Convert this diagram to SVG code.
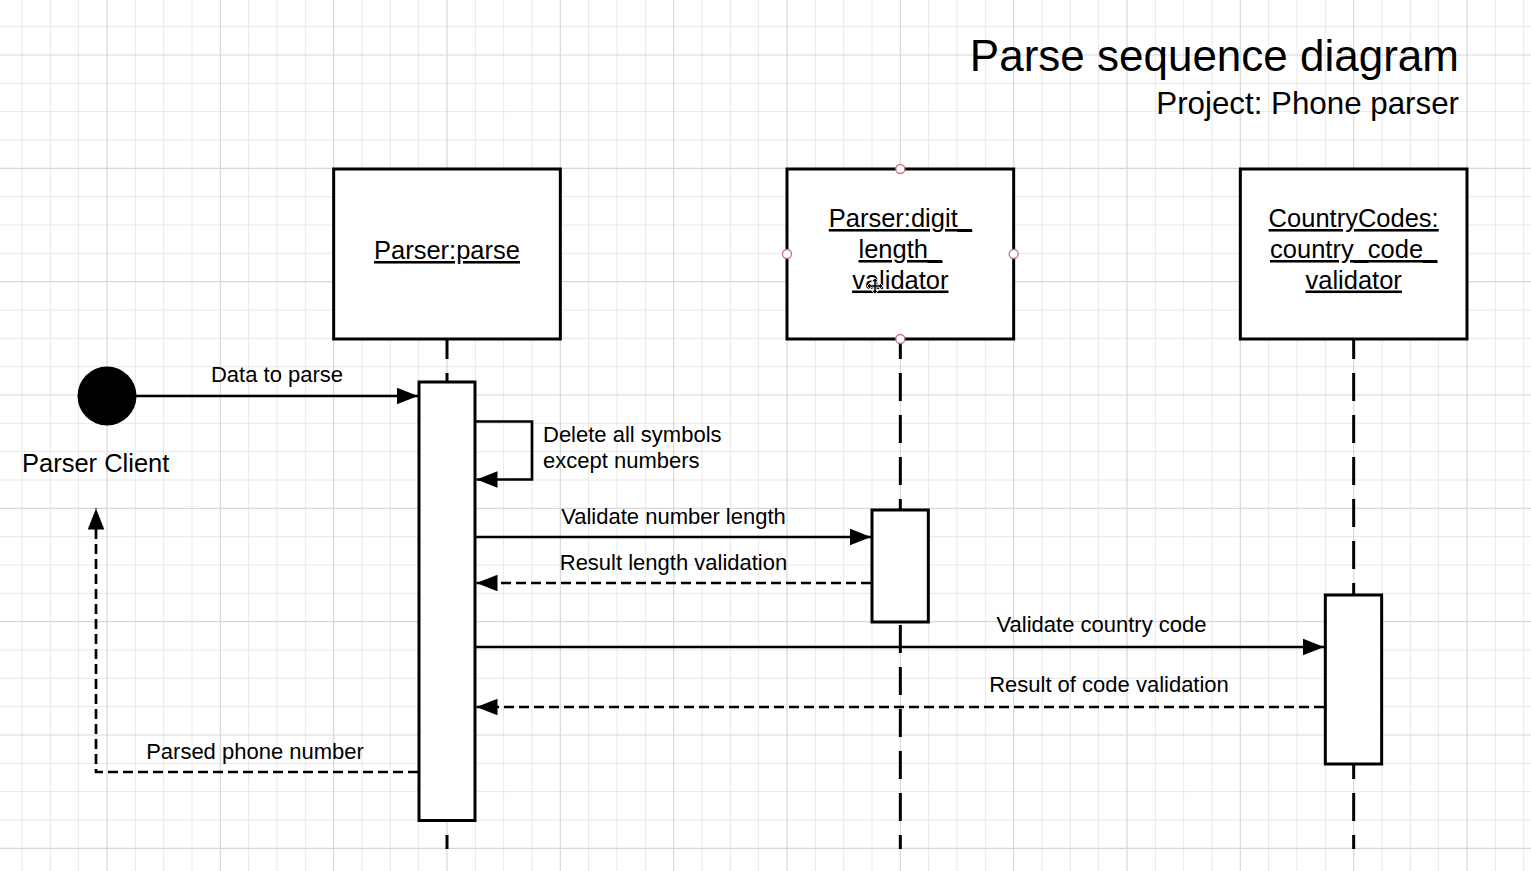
<svg xmlns="http://www.w3.org/2000/svg" width="1531" height="871" viewBox="0 0 1531 871">
  <style>
    .grid-minor { stroke: #e8e8e8; stroke-width: 1; fill: none; }
    .grid-major { stroke: #d8d8d8; stroke-width: 1.2; fill: none; }
    .box { fill: #ffffff; stroke: #000000; stroke-width: 3; }
    .lifeline { stroke: #000000; stroke-width: 3; fill: none; stroke-dasharray: 28 14; stroke-dashoffset: 8; }
    .msg { stroke: #000000; stroke-width: 2.7; fill: none; }
    .ret { stroke: #000000; stroke-width: 2.7; fill: none; stroke-dasharray: 10 5; }
    .label { font-family: "Liberation Sans", Arial, sans-serif; font-size: 22px; fill: #000000; }
    .actor-name { font-family: "Liberation Sans", Arial, sans-serif; font-size: 25.5px; fill: #000000; }
    .obj { font-family: "Liberation Sans", Arial, sans-serif; font-size: 25.5px; fill: #000000; text-anchor: middle; text-decoration: underline; }
    .handle { fill: #ffffff; stroke: #c8707e; stroke-width: 1.3; }
  </style>
  <defs>
    <marker id="arrow" markerUnits="userSpaceOnUse" markerWidth="22" markerHeight="17" refX="21" refY="8.3" orient="auto">
      <path d="M0,0 L21,8.3 L0,16.6 Z" fill="#000000"/>
    </marker>
  </defs>

  <!-- background grid -->
  <rect x="0" y="0" width="1531" height="871" fill="#ffffff"/>
  <g id="grid">
    <path class="grid-minor" d="M22 0V871M50.33 0V871M78.67 0V871M135.33 0V871M163.67 0V871M192 0V871M248.67 0V871M277 0V871M305.33 0V871M362 0V871M390.33 0V871M418.67 0V871M475.33 0V871M503.67 0V871M532 0V871M588.67 0V871M617 0V871M645.33 0V871M702 0V871M730.33 0V871M758.67 0V871M815.33 0V871M843.67 0V871M872 0V871M928.67 0V871M957 0V871M985.33 0V871M1042 0V871M1070.33 0V871M1098.67 0V871M1155.33 0V871M1183.67 0V871M1212 0V871M1268.67 0V871M1297 0V871M1325.33 0V871M1382 0V871M1410.33 0V871M1438.67 0V871M1495.33 0V871M1523.67 0V871"/>
    <path class="grid-minor" d="M0 26.67H1531M0 83.33H1531M0 111.67H1531M0 140H1531M0 196.67H1531M0 225H1531M0 253.33H1531M0 310H1531M0 338.33H1531M0 366.67H1531M0 423.33H1531M0 451.67H1531M0 480H1531M0 536.67H1531M0 565H1531M0 593.33H1531M0 650H1531M0 678.33H1531M0 706.67H1531M0 763.33H1531M0 791.67H1531M0 820H1531"/>
    <path class="grid-major" d="M107 0V871M220.33 0V871M333.67 0V871M447 0V871M560.33 0V871M673.67 0V871M787 0V871M900.33 0V871M1013.67 0V871M1127 0V871M1240.33 0V871M1353.67 0V871M1467 0V871"/>
    <path class="grid-major" d="M0 55H1531M0 168.33H1531M0 281.67H1531M0 395H1531M0 508.33H1531M0 621.67H1531M0 735H1531M0 848.33H1531"/>
  </g>

  <!-- title block -->
  <g id="title" font-family="Liberation Sans, Arial, sans-serif" fill="#000000" text-anchor="end">
    <text x="1459" y="71" font-size="44">Parse sequence diagram</text>
    <text x="1459" y="114" font-size="31.3">Project: Phone parser</text>
  </g>

  <!-- lifelines -->
  <g id="lifelines">
    <line class="lifeline" x1="447" y1="339" x2="447" y2="849"/>
    <line class="lifeline" x1="900.33" y1="339" x2="900.33" y2="849"/>
    <line class="lifeline" x1="1353.67" y1="339" x2="1353.67" y2="849"/>
  </g>

  <!-- actor -->
  <g id="parser-client">
    <circle cx="107" cy="396" r="29.5" fill="#000000"/>
    <text class="actor-name" x="22" y="472">Parser Client</text>
  </g>

  <!-- objects -->
  <g id="parser-parse">
    <rect class="box" x="333.67" y="169" width="226.67" height="170"/>
    <text class="obj" x="447" y="259">Parser:parse</text>
  </g>
  <g id="digit-length-validator">
    <rect class="box" x="787" y="169" width="226.67" height="170"/>
    <text class="obj" x="900.33" y="227">Parser:digit_</text>
    <text class="obj" x="900.33" y="258">length_</text>
    <text class="obj" x="900.33" y="288.5">validator</text>
    <circle class="handle" cx="900.33" cy="169" r="4.5"/>
    <circle class="handle" cx="787" cy="254" r="4.5"/>
    <circle class="handle" cx="1013.67" cy="254" r="4.5"/>
    <circle class="handle" cx="900.33" cy="339" r="4.5"/>
    <path transform="translate(875 286)" d="M0,-8 L3.5,-4.5 L1.2,-4.5 L1.2,-1.2 L4.5,-1.2 L4.5,-3.5 L8,0 L4.5,3.5 L4.5,1.2 L1.2,1.2 L1.2,4.5 L3.5,4.5 L0,8 L-3.5,4.5 L-1.2,4.5 L-1.2,1.2 L-4.5,1.2 L-4.5,3.5 L-8,0 L-4.5,-3.5 L-4.5,-1.2 L-1.2,-1.2 L-1.2,-4.5 L-3.5,-4.5 Z" fill="#000000" stroke="#ffffff" stroke-width="0.8"/>
  </g>
  <g id="country-code-validator">
    <rect class="box" x="1240.33" y="169" width="226.67" height="170"/>
    <text class="obj" x="1353.67" y="227">CountryCodes:</text>
    <text class="obj" x="1353.67" y="258">country_code_</text>
    <text class="obj" x="1353.67" y="288.5">validator</text>
  </g>

  <!-- activation bars -->
  <g id="activations">
    <rect class="box" x="419" y="382" width="56" height="438.5"/>
    <rect class="box" x="872" y="510" width="56.33" height="112"/>
    <rect class="box" x="1325.33" y="595" width="56.33" height="169"/>
  </g>

  <!-- messages -->
  <g id="connectors">
    <line class="msg" x1="136" y1="396" x2="418" y2="396" marker-end="url(#arrow)"/>
    <path class="msg" d="M475 421.5 H532 V479.5 H476.5" marker-end="url(#arrow)"/>
    <line class="msg" x1="475" y1="537" x2="871" y2="537" marker-end="url(#arrow)"/>
    <line class="ret" x1="871" y1="583" x2="476.5" y2="583" marker-end="url(#arrow)"/>
    <line class="msg" x1="475" y1="647" x2="1324" y2="647" marker-end="url(#arrow)"/>
    <line class="ret" x1="1324" y1="707" x2="476.5" y2="707" marker-end="url(#arrow)"/>
    <path class="ret" d="M418 772 H96 V508.5" marker-end="url(#arrow)"/>
  </g>

  <!-- message labels -->
  <g id="message-labels">
    <text class="label" x="277" y="382" text-anchor="middle">Data to parse</text>
    <text class="label" x="543" y="442">Delete all symbols</text>
    <text class="label" x="543" y="467.5">except numbers</text>
    <text class="label" x="673.5" y="523.5" text-anchor="middle">Validate number length</text>
    <text class="label" x="673.5" y="570" text-anchor="middle">Result length validation</text>
    <text class="label" x="1101.5" y="631.5" text-anchor="middle">Validate country code</text>
    <text class="label" x="1109" y="692" text-anchor="middle">Result of code validation</text>
    <text class="label" x="255" y="759" text-anchor="middle">Parsed phone number</text>
  </g>
</svg>
